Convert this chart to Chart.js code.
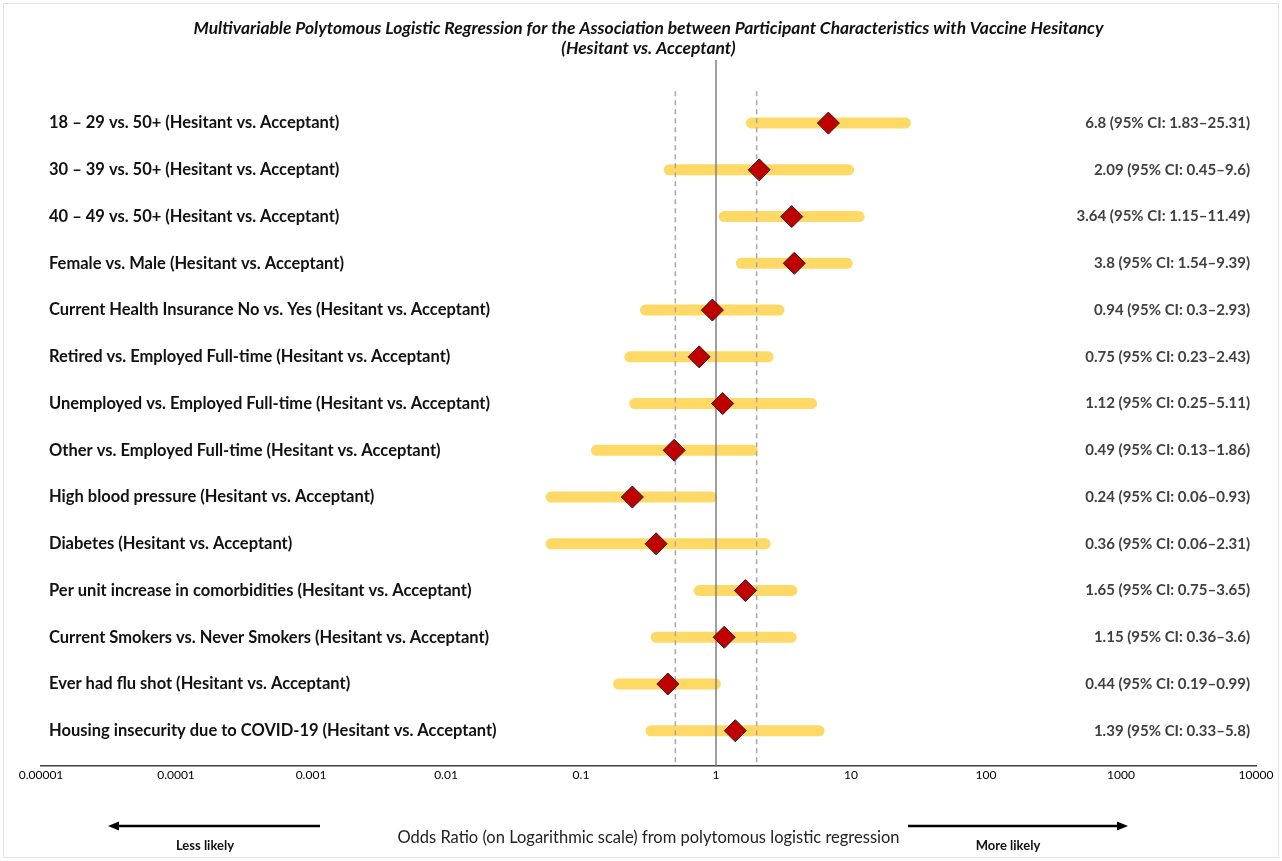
<!DOCTYPE html>
<html>
<head>
<meta charset="utf-8">
<title>Vaccine hesitancy forest plot</title>
<script src="https://cdn.jsdelivr.net/npm/chart.js"></script>
<style>
    body { margin: 0; background: #ffffff; }
    #wrap { width: 1282px; height: 861px; position: relative; }
</style>
</head>
<body>
<div id="wrap"><canvas id="forestChart"></canvas></div>
<script>
// rows, top to bottom
const categories = [
    '18 \u2013 29 vs. 50+ (Hesitant vs. Acceptant)',
    '30 \u2013 39 vs. 50+ (Hesitant vs. Acceptant)',
    '40 \u2013 49 vs. 50+ (Hesitant vs. Acceptant)',
    'Female vs. Male (Hesitant vs. Acceptant)',
    'Current Health Insurance No vs. Yes (Hesitant vs. Acceptant)',
    'Retired vs. Employed Full-time (Hesitant vs. Acceptant)',
    'Unemployed vs. Employed Full-time (Hesitant vs. Acceptant)',
    'Other vs. Employed Full-time (Hesitant vs. Acceptant)',
    'High blood pressure (Hesitant vs. Acceptant)',
    'Diabetes (Hesitant vs. Acceptant)',
    'Per unit increase in comorbidities (Hesitant vs. Acceptant)',
    'Current Smokers vs. Never Smokers (Hesitant vs. Acceptant)',
    'Ever had flu shot (Hesitant vs. Acceptant)',
    'Housing insecurity due to COVID-19 (Hesitant vs. Acceptant)'
];
const oddsRatios = [6.8, 2.09, 3.64, 3.8, 0.94, 0.75, 1.12, 0.49, 0.24, 0.36, 1.65, 1.15, 0.44, 1.39];
const ciLower = [1.83, 0.45, 1.15, 1.54, 0.3, 0.23, 0.25, 0.13, 0.06, 0.06, 0.75, 0.36, 0.19, 0.33];
const ciUpper = [25.31, 9.6, 11.49, 9.39, 2.93, 2.43, 5.11, 1.86, 0.93, 2.31, 3.65, 3.6, 0.99, 5.8];

const xTickValues = [0.00001, 0.0001, 0.001, 0.01, 0.1, 1, 10, 100, 1000, 10000];
const xTickLabels = ['0.00001', '0.0001', '0.001', '0.01', '0.1', '1', '10', '100', '1000', '10000'];

const nullLine = 1;
const dashedLines = [0.5, 2];

const FONT = 'Lato, "Open Sans", sans-serif';

// y range so row 1 sits a bit below the title and last row above the axis
const Y_MIN = -0.35;
const Y_MAX = 14.75;
const DASH_TOP = 0.32;

const rowIndex = categories.map((c, i) => i + 1);
const valueTexts = oddsRatios.map((v, i) => `${v} (95% CI: ${ciLower[i]}\u2013${ciUpper[i]})`);

// CI segments, separated by gaps
const ciData = [];
rowIndex.forEach((r, i) => {
    ciData.push({x: ciLower[i], y: r});
    ciData.push({x: ciUpper[i], y: r});
    ciData.push({x: ciUpper[i], y: null});
});

const pointData = rowIndex.map((r, i) => ({x: oddsRatios[i], y: r}));

const refDatasets = [];
refDatasets.push({
    data: [{x: nullLine, y: Y_MIN}, {x: nullLine, y: Y_MAX}],
    showLine: true,
    borderColor: '#7f7f7f',
    borderWidth: 1.5,
    pointRadius: 0,
    order: 1
});
dashedLines.forEach(v => {
    refDatasets.push({
        data: [{x: v, y: DASH_TOP}, {x: v, y: Y_MAX}],
        showLine: true,
        borderColor: '#a6a6a6',
        borderWidth: 1.5,
        borderDash: [5, 4],
        pointRadius: 0,
        order: 1
    });
});

const bottomNotes = {
    id: 'bottomNotes',
    beforeDraw(chart) {
        const ctx = chart.ctx;
        ctx.save();
        ctx.fillStyle = '#ffffff';
        ctx.fillRect(0, 0, chart.width, chart.height);
        ctx.strokeStyle = '#e3e3e3';
        ctx.lineWidth = 1;
        ctx.strokeRect(3.5, 3.5, chart.width - 7, chart.height - 7);
        ctx.restore();
    },
    afterDraw(chart) {
        const ctx = chart.ctx;
        const y = 826;
        function arrow(x0, x1) {
            const dir = x1 > x0 ? 1 : -1;
            ctx.beginPath();
            ctx.moveTo(x0, y);
            ctx.lineTo(x1 - dir * 8, y);
            ctx.stroke();
            ctx.beginPath();
            ctx.moveTo(x1, y);
            ctx.lineTo(x1 - dir * 11, y - 4.5);
            ctx.lineTo(x1 - dir * 11, y + 4.5);
            ctx.closePath();
            ctx.fill();
        }
        ctx.save();
        ctx.strokeStyle = '#000';
        ctx.fillStyle = '#000';
        ctx.lineWidth = 2.5;
        arrow(320, 108);
        arrow(908, 1128);
        ctx.font = 'bold 13px ' + FONT;
        ctx.textAlign = 'center';
        ctx.textBaseline = 'middle';
        ctx.fillStyle = '#111';
        ctx.fillText('Less likely', 205, 846);
        ctx.fillText('More likely', 1008, 846);
        ctx.restore();
    }
};

const ctxForest = document.getElementById('forestChart').getContext('2d');
new Chart(ctxForest, {
    type: 'scatter',
    data: {
        datasets: [
            {
                data: pointData,
                pointStyle: 'rectRot',
                pointRadius: 11,
                backgroundColor: '#c00000',
                borderColor: '#2b1a1a',
                borderWidth: 1,
                order: 0
            },
            ...refDatasets,
            {
                data: ciData,
                showLine: true,
                spanGaps: false,
                borderColor: '#ffd966',
                borderWidth: 11,
                borderCapStyle: 'round',
                pointRadius: 0,
                order: 2
            }
        ]
    },
    plugins: [bottomNotes],
    options: {
        responsive: true,
        maintainAspectRatio: false,
        animation: false,
        layout: {
            padding: {left: 41, right: 26, top: 0, bottom: 13}
        },
        plugins: {
            legend: { display: false },
            tooltip: { enabled: false },
            title: {
                display: true,
                text: ['Multivariable Polytomous Logistic Regression for the Association between Participant Characteristics with Vaccine Hesitancy',
                       '(Hesitant vs. Acceptant)'],
                color: '#111',
                font: { family: FONT, size: 17.4, weight: 'bold', style: 'italic', lineHeight: 1.15 },
                padding: { top: 18, bottom: 2 }
            }
        },
        scales: {
            x: {
                type: 'logarithmic',
                min: 0.00001,
                max: 10000,
                afterBuildTicks: scale => {
                    scale.ticks = xTickValues.map(v => ({value: v}));
                },
                ticks: {
                    callback: (value, index) => xTickLabels[index],
                    color: '#000',
                    font: { family: FONT, size: 12 },
                    padding: 2,
                    maxRotation: 0,
                    autoSkip: false
                },
                grid: { display: false, drawTicks: false },
                border: { display: true, color: '#404040', width: 1.5 },
                title: {
                    display: true,
                    text: 'Odds Ratio (on Logarithmic scale) from polytomous logistic regression',
                    color: '#222',
                    font: { family: FONT, size: 16.5, lineHeight: 1.2 },
                    padding: { top: 44, bottom: 0 }
                }
            },
            y: {
                type: 'linear',
                position: 'left',
                reverse: true,
                min: Y_MIN,
                max: Y_MAX,
                afterBuildTicks: scale => {
                    scale.ticks = rowIndex.map(v => ({value: v}));
                },
                afterFit: scale => { scale.width = 0; },
                ticks: {
                    mirror: true,
                    padding: 8,
                    callback: value => categories[value - 1],
                    color: '#111',
                    font: { family: FONT, size: 16.5, weight: 'bold' }
                },
                grid: { display: false, drawTicks: false },
                border: { display: false }
            },
            y2: {
                type: 'linear',
                position: 'right',
                reverse: true,
                min: Y_MIN,
                max: Y_MAX,
                afterBuildTicks: scale => {
                    scale.ticks = rowIndex.map(v => ({value: v}));
                },
                afterFit: scale => { scale.width = 0; },
                ticks: {
                    mirror: true,
                    padding: -6,
                    callback: value => valueTexts[value - 1],
                    color: '#404040',
                    font: { family: FONT, size: 15, weight: 'bold' }
                },
                grid: { display: false, drawTicks: false },
                border: { display: false }
            }
        }
    }
});
</script>
</body>
</html>
